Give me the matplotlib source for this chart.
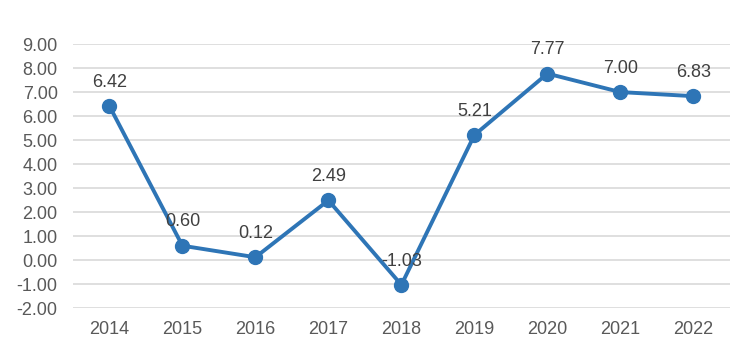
import matplotlib
matplotlib.use("Agg")
import matplotlib.pyplot as plt

years = ["2014", "2015", "2016", "2017", "2018", "2019", "2020", "2021", "2022"]
values = [6.42, 0.60, 0.12, 2.49, -1.03, 5.21, 7.77, 7.00, 6.83]
yticks = [-2, -1, 0, 1, 2, 3, 4, 5, 6, 7, 8, 9]

plt.rcParams['font.family'] = ['Liberation Sans', 'DejaVu Sans']

fig = plt.figure(figsize=(7.44, 3.47), dpi=100)
ax = fig.add_axes([0.098, 0.112, 0.883, 0.761])

x = list(range(len(years)))
ax.plot(x, values, color='#2E75B6', linewidth=2.8, marker='o',
        markersize=10, zorder=3)

for xi, v in zip(x, values):
    ax.annotate(f"{v:.2f}", (xi, v), xytext=(0, 11), textcoords='offset points',
                ha='center', va='bottom', fontsize=13, color='#404040', zorder=4)

ax.set_xlim(-0.5, len(years) - 0.5)
ax.set_ylim(-2, 9)
ax.set_yticks(yticks)
ax.set_yticklabels([f"{t:.2f}" for t in yticks])
ax.set_xticks(x)
ax.set_xticklabels(years)

ax.grid(axis='y', color='#D9D9D9', linewidth=1.2)
ax.set_axisbelow(True)
for s in ax.spines.values():
    s.set_visible(False)
ax.tick_params(length=0, labelsize=13, labelcolor='#595959')
ax.tick_params(axis='y', pad=11)
ax.tick_params(axis='x', pad=9)

fig.savefig("out.png", dpi=100)
